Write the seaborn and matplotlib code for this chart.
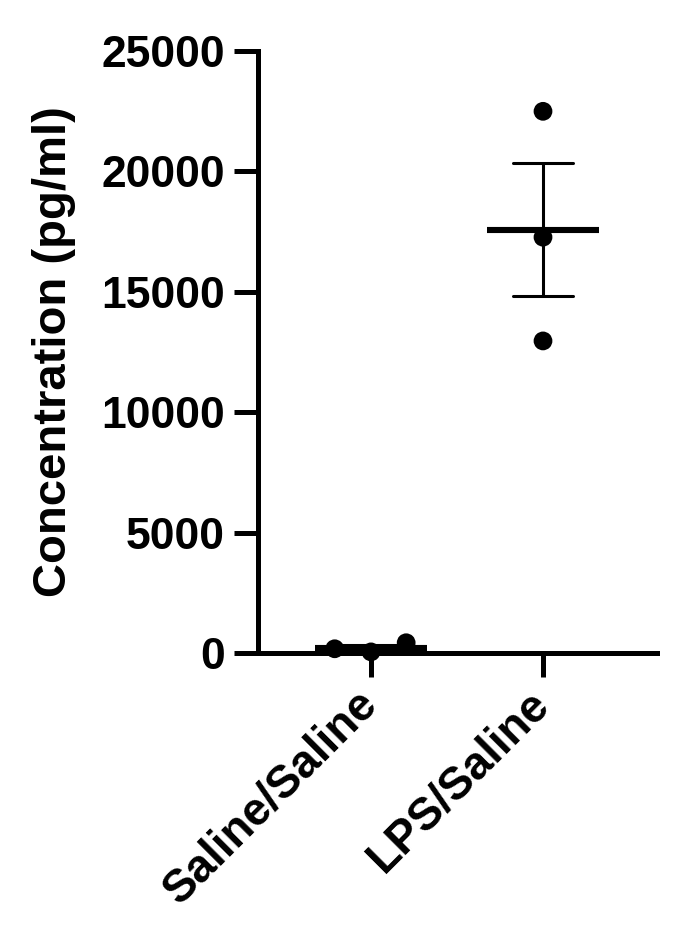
"""Cytokine concentration, scatter with mean and SEM (GraphPad style)."""

import matplotlib
matplotlib.use("Agg")
import matplotlib.pyplot as plt
import pandas as pd
import seaborn as sns

groups = ["Saline/Saline", "LPS/Saline"]
saline_values = [40, 420, 170]
lps_values = [22500, 17270, 12960]
y_ticks = [0, 5000, 10000, 15000, 20000, 25000]

df = pd.DataFrame({
    "group": [groups[0]] * len(saline_values) + [groups[1]] * len(lps_values),
    "conc": saline_values + lps_values,
})

sns.set_style("ticks")
plt.rcParams["font.family"] = ["Liberation Sans", "DejaVu Sans"]
plt.rcParams["font.weight"] = "bold"

fig = plt.figure(figsize=(6.88, 9.3), dpi=100)
ax = fig.add_axes([0.375, 0.298, 0.58, 0.647])

# mean line + SEM whiskers
sns.pointplot(
    data=df, x="group", y="conc", order=groups, errorbar="se",
    linestyle="none", marker="_", markersize=81, markeredgewidth=4.4,
    color="black", capsize=0.35, err_kws={"linewidth": 2.2},
    ax=ax,
)

# individual animals; the invisible edge only widens the swarm spacing
sns.swarmplot(
    data=df, x="group", y="conc", order=groups, color="black",
    size=13.5, linewidth=11.5, edgecolor="none", ax=ax,
    clip_on=False, zorder=4,
)

ax.set_ylim(0, 25000)
ax.set_xlim(-0.657, 1.663)
ax.set_yticks(y_ticks)
ax.set_yticklabels([str(t) for t in y_ticks])

for side in ["top", "right"]:
    ax.spines[side].set_visible(False)
for side in ["left", "bottom"]:
    ax.spines[side].set_linewidth(3.6)
    ax.spines[side].set_color("black")

ax.tick_params(axis="y", length=17, width=3.6, labelsize=32, pad=7, colors="black")
ax.tick_params(axis="x", length=17, width=3.6, labelsize=33, pad=15, colors="black")
for lab in ax.get_xticklabels():
    lab.set_rotation(45)
    lab.set_ha("right")
    lab.set_va("center")
    lab.set_rotation_mode("anchor")
    lab.set_fontweight("bold")
for lab in ax.get_yticklabels():
    lab.set_fontweight("bold")

ax.set_xlabel("")
ax.set_ylabel("Concentration (pg/ml)", fontsize=34, fontweight="bold",
              color="black", labelpad=18)

fig.savefig("out.png", dpi=100, facecolor="white")
